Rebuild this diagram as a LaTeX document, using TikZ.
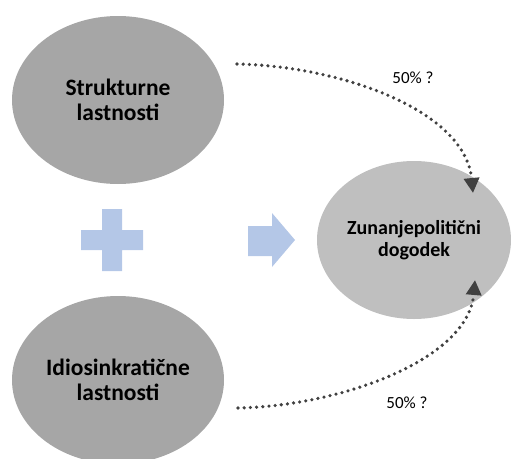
\documentclass[tikz,border=0pt]{standalone}
\usepackage{fontspec}
\setmainfont{Carlito}
\usetikzlibrary{shapes.geometric,arrows.meta}
\definecolor{sivaTemna}{HTML}{A6A6A6}
\definecolor{sivaSvetla}{HTML}{BFBFBF}
\definecolor{modra}{HTML}{B4C7E7}
\definecolor{pikice}{HTML}{404040}
\tikzset{
    lastnost/.style={ellipse, fill=sivaTemna, minimum width=212pt, minimum height=168pt,
        inner sep=0pt, align=center, font=\fontsize{23.5}{25}\selectfont\bfseries},
    dogodek/.style={ellipse, fill=sivaSvetla, minimum width=194pt, minimum height=158pt,
        inner sep=0pt, align=center, font=\fontsize{20}{22}\selectfont\bfseries},
    vpliv/.style={draw=pikice, line width=3.6pt, line cap=round, dash pattern=on 0pt off 6.2pt,
        -{Triangle[length=15pt,width=15pt]}},
    odstotek/.style={font=\fontsize{17}{19}\selectfont},
}

\begin{document}
\begin{tikzpicture}[x=1pt,y=-1pt]
    \useasboundingbox (0,0) rectangle (511,458);
    \node[lastnost] (struk) at (118,100) {Strukturne\\lastnosti};
    \node[lastnost] (idio) at (118,380) {Idiosinkratične\\lastnosti};
    \node[dogodek] (dog) at (414,240) {Zunanjepolitični\\dogodek};
    % plus in puscica
    \fill[modra] (102,209) -- (122,209) -- (122,230) -- (143,230) -- (143,250) -- (122,250)
        -- (122,271) -- (102,271) -- (102,250) -- (81,250) -- (81,230) -- (102,230) -- cycle;
    \fill[modra] (248,226) -- (272,226) -- (272,213) -- (295,240) -- (272,267) -- (272,256)
        -- (248,256) -- cycle;
    % pikcaste povezave
    \coordinate (zacA) at (237,64);
    \coordinate (konA) at (473,193);
    \coordinate (zacB) at (238,408);
    \coordinate (konB) at (475,280);
    \draw[vpliv] (zacA) .. controls (340,66) and (465,110) .. (konA);
    \draw[vpliv] (zacB) .. controls (340,406) and (468,360) .. (konB);
    \node[odstotek] (pctA) at (413,78) {50\% ?};
    \node[odstotek] (pctB) at (407,403) {50\% ?};
\end{tikzpicture}
\end{document}
